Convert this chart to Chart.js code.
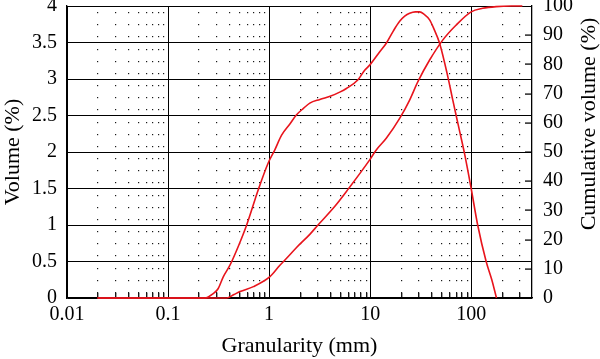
<!DOCTYPE html>
<html>
<head>
<meta charset="utf-8">
<script src="https://cdn.jsdelivr.net/npm/chart.js@4/dist/chart.umd.min.js"></script>
<style>
html,body{margin:0;padding:0;background:#fff;}
#wrap{width:600px;height:359px;position:relative;}
</style>
</head>
<body>
<div id="wrap"><canvas id="c"></canvas></div>
<script>
// ---- data ----
const volX = [0.02,0.1,0.23,0.28,0.314,0.352,0.41,0.5,0.6,0.78,0.98,1.14,1.33,1.6,1.87,2.2,2.53,3.18,4.14,5.0,5.82,7.59,8.83,9.9,12.4,14.45,17,19.6,22,24.6,28,30.9,34,38.8,43,48.7,58.8,65.8,75.3,85.9,100,116,140.7,160,178];
const volY = [0,0,0,0.06,0.13,0.29,0.45,0.72,1.0,1.48,1.85,2.03,2.23,2.38,2.51,2.6,2.67,2.72,2.77,2.82,2.87,2.99,3.12,3.19,3.37,3.49,3.66,3.79,3.86,3.9,3.92,3.92,3.89,3.81,3.68,3.49,3.03,2.71,2.34,1.98,1.5,1.0,0.5,0.25,0];
const cumX = [0.02,0.38,0.45,0.515,0.7,1.02,1.28,1.49,1.87,2.53,3.05,4.5,6.04,9.9,11.5,14.45,19.6,24.6,29.7,38.8,52.5,71.1,100,130,177,250,321];
const cumY = [0,0,1.2,2.2,3.9,7.3,11.2,13.6,17.3,21.8,25,31.5,37.2,47.3,50.7,54.7,61.5,67.8,74.1,81.5,88.4,93.5,98,99.2,99.8,100,100];
const xMajorTicks = [0.01,0.1,1,10,100];
const xMinorTicks = [0.02,0.03,0.04,0.05,0.06,0.07,0.08,0.09,0.2,0.3,0.4,0.5,0.6,0.7,0.8,0.9,2,3,4,5,6,7,8,9,20,30,40,50,60,70,80,90,200,300];
const xRange = [0.01,400];
const yLeftRange = [0,4], yLeftStep = 0.5;
const yRightRange = [0,100], yRightStep = 10;
const xTitle = 'Granularity (mm)';
const yLeftTitle = 'Volume (%)';
const yRightTitle = 'Cumulative volume (%)';

const FONT = '"Liberation Serif", "Times New Roman", serif';
const RED = '#e8141c';

const decor = {
  id: 'decor',
  beforeDatasetsDraw(chart) {
    const {ctx, chartArea: a, scales} = chart;
    const xs = scales.x, y2 = scales.y2;
    ctx.save();
    ctx.fillStyle = 'rgba(0,0,0,0.9)';
    const h = (a.bottom - a.top) / 24; // dot spacing
    xMinorTicks.forEach(m => {
      const px = Math.round(xs.getPixelForValue(m));
      for (let y = a.top + h / 2; y < a.bottom - 1; y += h) {
        ctx.fillRect(px, Math.round(y), 1.2, 1.2);
      }
      ctx.fillRect(px, a.bottom - 5, 1.4, 5);
    });
    for (let v = yRightRange[0] + yRightStep; v < yRightRange[1]; v += yRightStep) {
      const py = Math.round(y2.getPixelForValue(v));
      ctx.fillRect(a.right - 7, py - 0.6, 7, 1.4);
    }
    ctx.restore();
  },
  afterDraw(chart) {
    const {ctx, chartArea: a} = chart;
    ctx.save();
    ctx.fillStyle = '#000';
    ctx.font = '22px ' + FONT;
    ctx.textAlign = 'center';
    ctx.textBaseline = 'middle';
    ctx.fillText(xTitle, (a.left + a.right) / 2, 346);
    ctx.translate(13, (a.top + a.bottom) / 2);
    ctx.rotate(-Math.PI / 2);
    ctx.fillText(yLeftTitle, 0, 0);
    ctx.restore();
    ctx.save();
    ctx.fillStyle = '#000';
    ctx.font = '22px ' + FONT;
    ctx.textAlign = 'center';
    ctx.textBaseline = 'middle';
    ctx.translate(589, 124);
    ctx.rotate(-Math.PI / 2);
    ctx.fillText(yRightTitle, 0, 0);
    ctx.restore();
  }
};

new Chart(document.getElementById('c'), {
  type: 'line',
  data: {
    datasets: [
      {
        label: 'Volume',
        data: volX.map((x, i) => ({x, y: volY[i]})),
        yAxisID: 'y',
        borderColor: RED, borderWidth: 1.6, pointRadius: 0, clip: 3,
        cubicInterpolationMode: 'monotone', fill: false
      },
      {
        label: 'Cumulative volume',
        data: cumX.map((x, i) => ({x, y: cumY[i]})),
        yAxisID: 'y2',
        borderColor: RED, borderWidth: 1.6, pointRadius: 0, clip: 3,
        cubicInterpolationMode: 'monotone', fill: false
      }
    ]
  },
  options: {
    responsive: true,
    maintainAspectRatio: false,
    animation: false,
    devicePixelRatio: 1,
    layout: {padding: {top: 6, left: 0, right: 0, bottom: 0}},
    plugins: {legend: {display: false}, tooltip: {enabled: false}},
    scales: {
      x: {
        type: 'logarithmic',
        min: xRange[0], max: xRange[1],
        afterBuildTicks: s => { s.ticks = xMajorTicks.map(v => ({value: v})); },
        afterFit: s => { s.height = 61; s.paddingLeft = 0; s.paddingRight = 0; },
        ticks: {
          autoSkip: false, maxRotation: 0, padding: 5, color: '#000',
          font: {family: FONT, size: 20},
          callback: v => String(v)
        },
        grid: {color: '#000', lineWidth: 1, drawTicks: false},
        border: {color: '#000', width: 1.3}
      },
      y: {
        position: 'left',
        min: yLeftRange[0], max: yLeftRange[1],
        afterFit: s => { s.width = 67; s.paddingTop = 0; s.paddingBottom = 0; },
        ticks: {
          stepSize: yLeftStep, padding: 10, color: '#000',
          font: {family: FONT, size: 20},
          callback: v => String(v)
        },
        grid: {color: '#000', lineWidth: 1, drawTicks: false},
        border: {color: '#000', width: 1.3}
      },
      y2: {
        position: 'right',
        min: yRightRange[0], max: yRightRange[1],
        afterFit: s => { s.width = 68; s.paddingTop = 0; s.paddingBottom = 0; },
        ticks: {
          stepSize: yRightStep, padding: 11, color: '#000',
          font: {family: FONT, size: 20},
          callback: v => String(v)
        },
        grid: {drawOnChartArea: false, drawTicks: false},
        border: {color: '#000', width: 1.3}
      }
    }
  },
  plugins: [decor]
});
</script>
</body>
</html>
